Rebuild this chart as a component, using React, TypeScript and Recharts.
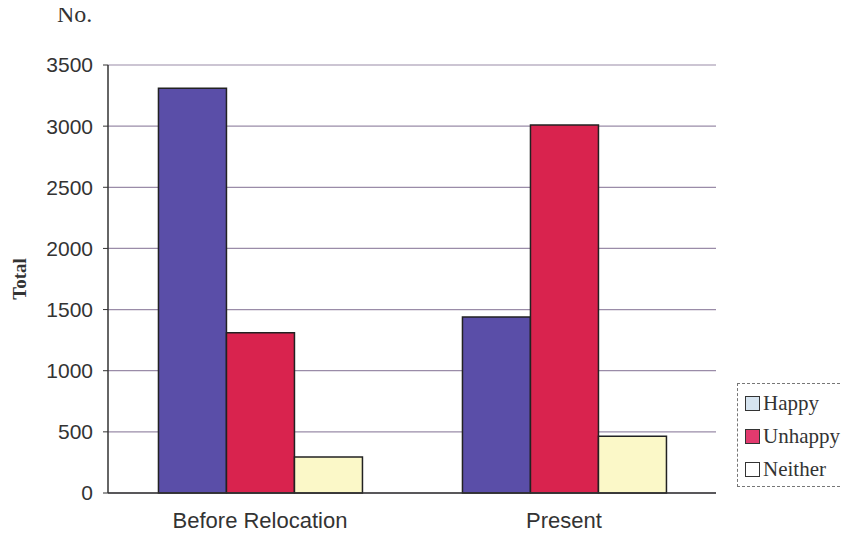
import { BarChart, Bar, XAxis, YAxis, CartesianGrid } from "recharts";

const categories = ["Before Relocation", "Present"];
const happy = [3310, 1440];
const unhappy = [1310, 3010];
const neither = [295, 465];
const yTicks = [0, 500, 1000, 1500, 2000, 2500, 3000, 3500];

const data = categories.map((name, i) => ({
  name,
  happy: happy[i],
  unhappy: unhappy[i],
  neither: neither[i],
}));

const legendItems = [
  { label: "Happy", swatch: "#d6e4f0" },
  { label: "Unhappy", swatch: "#e23a6e" },
  { label: "Neither", swatch: "#ffffff" },
];

// legend box runs off the right edge in the original, so no right border
function LegendBox() {
  return (
    <div
      style={{
        position: "absolute",
        left: 737,
        top: 383,
        border: "1px dashed #777",
        borderRight: "none",
        width: 113,
        height: 104,
        boxSizing: "border-box",
        padding: "3px 0 0 7px",
        fontFamily: "'Liberation Serif', serif",
        fontSize: 21,
        color: "#333",
        background: "#fff",
        whiteSpace: "nowrap",
      }}
    >
      {legendItems.map((it) => (
        <div key={it.label} style={{ display: "flex", alignItems: "center", height: 33 }}>
          <span
            style={{
              display: "inline-block",
              width: 13,
              height: 13,
              border: "1.5px solid #333",
              background: it.swatch,
              marginRight: 3,
            }}
          />
          {it.label}
        </div>
      ))}
    </div>
  );
}

export default function App() {
  const yTickStyle = { fill: "#333", fontSize: 21, fontFamily: "'Liberation Sans', Arial, sans-serif" };
  const xTickStyle = { fill: "#333", fontSize: 22, fontFamily: "'Liberation Sans', Arial, sans-serif" };
  return (
    <div style={{ position: "relative", width: 850, height: 542, margin: -8, background: "#fff", overflow: "hidden" }}>
      <div
        style={{
          position: "absolute",
          left: 57,
          top: 1,
          fontFamily: "'Liberation Serif', serif",
          fontSize: 24,
          color: "#333",
        }}
      >
        No.
      </div>
      <BarChart
        width={850}
        height={542}
        data={data}
        margin={{ top: 65, right: 134, left: 10, bottom: 9 }}
        barGap={0}
        barCategoryGap="16.6%"
      >
        <CartesianGrid vertical={false} stroke="#9a8ca8" strokeWidth={1.2} />
        <XAxis
          dataKey="name"
          tick={xTickStyle}
          tickLine={false}
          tickMargin={13}
          axisLine={{ stroke: "#333", strokeWidth: 1.5 }}
          height={40}
        />
        <YAxis
          width={98}
          domain={[0, 3500]}
          ticks={yTicks}
          tick={yTickStyle}
          tickSize={5}
          tickMargin={10}
          tickLine={{ stroke: "#333" }}
          axisLine={{ stroke: "#333", strokeWidth: 1.5 }}
          label={{
            value: "Total",
            angle: -90,
            position: "insideLeft",
            offset: 9,
            style: {
              fontFamily: "'Liberation Serif', serif",
              fontWeight: "bold",
              fontSize: 19,
              fill: "#333",
              textAnchor: "middle",
            },
          }}
        />
        <YAxis
          yAxisId="right"
          orientation="right"
          width={0}
          domain={[0, 3500]}
          tick={false}
          tickLine={false}
          axisLine={{ stroke: "#555", strokeWidth: 1 }}
        />
        <Bar dataKey="happy" fill="#5a4ea8" stroke="#222" strokeWidth={1.5} isAnimationActive={false} />
        <Bar dataKey="unhappy" fill="#d9234e" stroke="#222" strokeWidth={1.5} isAnimationActive={false} />
        <Bar dataKey="neither" fill="#fbf8c8" stroke="#222" strokeWidth={1.5} isAnimationActive={false} />
      </BarChart>
      <LegendBox />
    </div>
  );
}
